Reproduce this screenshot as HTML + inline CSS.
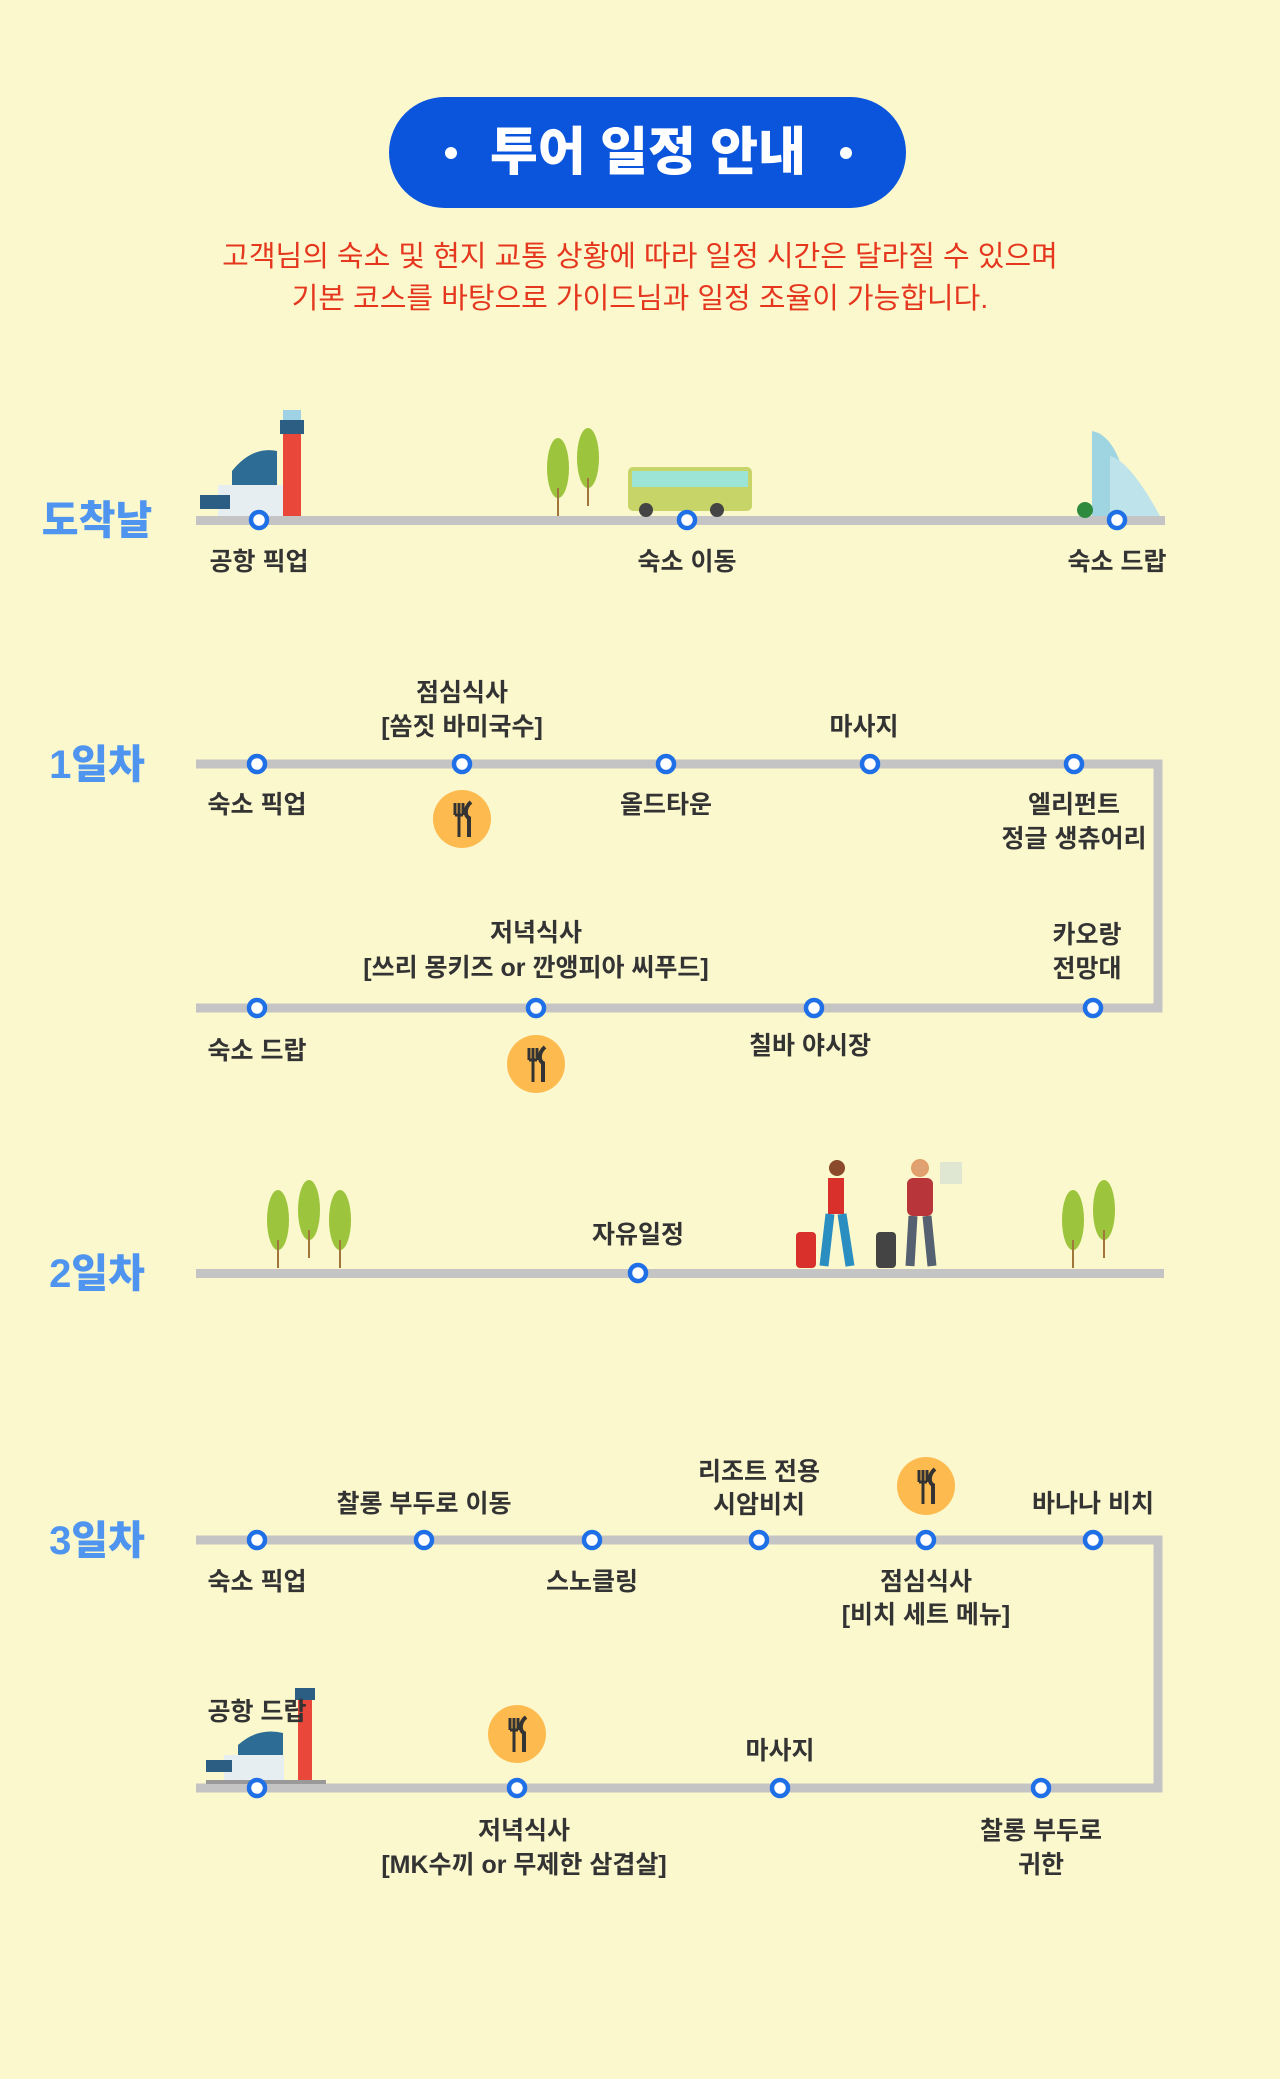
<!DOCTYPE html>
<html><head><meta charset="utf-8">
<style>
html,body{margin:0;padding:0;background:#fbf8cd;}
svg{display:block}
text{font-family:"Liberation Sans","Noto Sans CJK KR","NanumGothic",sans-serif;}
.l{font-size:25px;font-weight:bold;fill:#333;text-anchor:middle}
.d{font-size:40px;font-weight:900;fill:#4f95ef;text-anchor:middle}
.r{font-size:29px;fill:#e5361e;text-anchor:middle}
</style></head><body>
<svg width="1280" height="2079" viewBox="0 0 1280 2079">
<rect width="1280" height="2079" fill="#fbf8cd"/>
<defs>
<g id="n"><circle r="8" fill="#fff" stroke="#1f6fe6" stroke-width="4.5"/></g>
<g id="fk"><circle r="29" fill="#fdbb4f"/><path d="M-7 -16v12M-3 -16v12M1 -16v12M-7 -4h8M-3 -4v22" stroke="#333" stroke-width="3" fill="none"/><path d="M9 -17c-7 6-6 14-2 16v19" stroke="#333" stroke-width="4" fill="none"/></g>
<g id="tr"><ellipse cx="0" cy="-30" rx="11" ry="30" fill="#9cc43c"/><line x1="0" y1="-10" x2="0" y2="18" stroke="#a0763a" stroke-width="2"/></g>
</defs>

<!-- title -->
<rect x="389" y="97" width="517" height="111" rx="55.5" fill="#0a55dc"/>
<circle cx="451" cy="153" r="6" fill="#fff"/><circle cx="846" cy="153" r="6" fill="#fff"/>
<text x="648" y="170" font-size="52" font-weight="900" fill="#fff" text-anchor="middle">투어 일정 안내</text>
<text class="r" x="640" y="266">고객님의 숙소 및 현지 교통 상황에 따라 일정 시간은 달라질 수 있으며</text>
<text class="r" x="640" y="308">기본 코스를 바탕으로 가이드님과 일정 조율이 가능합니다.</text>

<!-- 도착날 -->
<text class="d" x="97" y="534">도착날</text>
<rect x="196" y="516" width="969" height="9" fill="#c4c4c4"/>
<!-- airport -->
<rect x="283" y="430" width="18" height="86" fill="#e8473a"/>
<rect x="280" y="420" width="24" height="14" fill="#2c5d82"/>
<rect x="283" y="410" width="18" height="10" fill="#9fd2e4"/>
<path d="M232 516v-45q20-25 45-20v65z" fill="#2c6c95"/>
<rect x="218" y="485" width="65" height="31" fill="#e7eef2"/>
<rect x="200" y="495" width="30" height="14" fill="#2c5d82"/>
<!-- trees bus -->
<use href="#tr" x="558" y="498"/><use href="#tr" x="588" y="488"/>
<rect x="628" y="467" width="124" height="44" rx="5" fill="#c7d568"/>
<rect x="632" y="471" width="116" height="16" fill="#9be4d6"/>
<circle cx="646" cy="510" r="7" fill="#444"/><circle cx="717" cy="510" r="7" fill="#444"/>
<!-- hotel -->
<path d="M1092 516v-85q30 5 40 85z" fill="#9fd5e0"/>
<path d="M1110 516v-60q20 5 50 60z" fill="#bfe3ea"/>
<circle cx="1085" cy="510" r="8" fill="#2e8b3e"/>
<use href="#n" x="259" y="520"/><use href="#n" x="687" y="520"/><use href="#n" x="1117" y="520"/>
<text class="l" x="259" y="570">공항 픽업</text><text class="l" x="687" y="570">숙소 이동</text><text class="l" x="1117" y="570">숙소 드랍</text>

<!-- 1일차 -->
<text class="d" x="97" y="778">1일차</text>
<path d="M196 764H1158V1008H196" stroke="#c4c4c4" stroke-width="9" fill="none"/>
<use href="#n" x="257" y="764"/><use href="#n" x="462" y="764"/><use href="#n" x="666" y="764"/><use href="#n" x="870" y="764"/><use href="#n" x="1074" y="764"/>
<text class="l" x="462" y="701">점심식사</text><text class="l" x="462" y="735">[쏨짓 바미국수]</text>
<text class="l" x="864" y="735">마사지</text>
<text class="l" x="257" y="813">숙소 픽업</text><use href="#fk" x="462" y="819"/>
<text class="l" x="666" y="813">올드타운</text>
<text class="l" x="1074" y="813">엘리펀트</text><text class="l" x="1074" y="847">정글 생츄어리</text>
<text class="l" x="536" y="941">저녁식사</text><text class="l" x="536" y="976">[쓰리 몽키즈 or 깐앵피아 씨푸드]</text>
<text class="l" x="1087" y="943">카오랑</text><text class="l" x="1087" y="977">전망대</text>
<use href="#n" x="257" y="1008"/><use href="#n" x="536" y="1008"/><use href="#n" x="814" y="1008"/><use href="#n" x="1093" y="1008"/>
<text class="l" x="257" y="1059">숙소 드랍</text><use href="#fk" x="536" y="1064"/><text class="l" x="810" y="1054">칠바 야시장</text>

<!-- 2일차 -->
<text class="d" x="97" y="1287">2일차</text>
<rect x="196" y="1269" width="968" height="9" fill="#c4c4c4"/>
<use href="#tr" x="278" y="1250"/><use href="#tr" x="309" y="1240"/><use href="#tr" x="340" y="1250"/>
<use href="#tr" x="1073" y="1250"/><use href="#tr" x="1104" y="1240"/>
<!-- travelers -->
<rect x="796" y="1232" width="20" height="36" rx="4" fill="#d9302c"/>
<circle cx="837" cy="1168" r="8" fill="#8b4a2b"/><rect x="828" y="1178" width="16" height="36" fill="#d9302c"/><path d="M830 1214l-6 52M842 1214l8 52" stroke="#2a8fc0" stroke-width="9"/>
<rect x="876" y="1232" width="20" height="36" rx="4" fill="#444"/>
<circle cx="920" cy="1168" r="9" fill="#e0a070"/><rect x="907" y="1178" width="26" height="38" rx="6" fill="#b8353a"/><path d="M913 1216l-3 50M927 1216l5 50" stroke="#556070" stroke-width="9"/>
<rect x="940" y="1162" width="22" height="22" fill="#dfe6d2"/>
<use href="#n" x="638" y="1273"/>
<text class="l" x="638" y="1243">자유일정</text>

<!-- 3일차 -->
<text class="d" x="97" y="1554">3일차</text>
<path d="M196 1540H1158V1788H196" stroke="#c4c4c4" stroke-width="9" fill="none"/>
<use href="#n" x="257" y="1540"/><use href="#n" x="424" y="1540"/><use href="#n" x="592" y="1540"/><use href="#n" x="759" y="1540"/><use href="#n" x="926" y="1540"/><use href="#n" x="1093" y="1540"/>
<text class="l" x="424" y="1512">찰롱 부두로 이동</text>
<text class="l" x="759" y="1480">리조트 전용</text><text class="l" x="759" y="1513">시암비치</text>
<use href="#fk" x="926" y="1486"/>
<text class="l" x="1093" y="1512">바나나 비치</text>
<text class="l" x="257" y="1590">숙소 픽업</text><text class="l" x="592" y="1590">스노클링</text>
<text class="l" x="926" y="1590">점심식사</text><text class="l" x="926" y="1623">[비치 세트 메뉴]</text>
<!-- small airport -->
<rect x="298" y="1700" width="14" height="80" fill="#e8473a"/>
<rect x="295" y="1688" width="20" height="12" fill="#2c5d82"/>
<path d="M238 1780v-35q20-18 45-12v47z" fill="#2c6c95"/>
<rect x="224" y="1755" width="60" height="25" fill="#e7eef2"/>
<rect x="206" y="1760" width="26" height="12" fill="#2c5d82"/>
<rect x="206" y="1780" width="120" height="4" fill="#999"/>
<text class="l" x="257" y="1720">공항 드랍</text>
<use href="#fk" x="517" y="1734"/>
<text class="l" x="780" y="1759">마사지</text>
<use href="#n" x="257" y="1788"/><use href="#n" x="517" y="1788"/><use href="#n" x="780" y="1788"/><use href="#n" x="1041" y="1788"/>
<text class="l" x="524" y="1839">저녁식사</text><text class="l" x="524" y="1873">[MK수끼 or 무제한 삼겹살]</text>
<text class="l" x="1041" y="1839">찰롱 부두로</text><text class="l" x="1041" y="1873">귀한</text>
</svg>
</body></html>
